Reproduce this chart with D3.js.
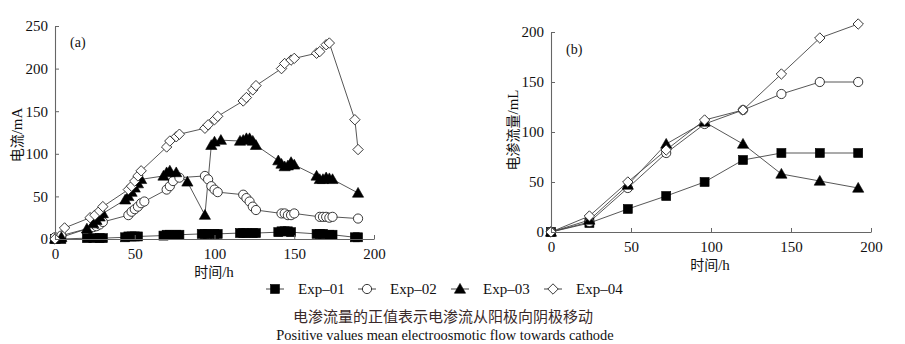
<!DOCTYPE html>
<html>
<head>
<meta charset="utf-8">
<script src="https://cdn.jsdelivr.net/npm/d3@7"></script>
<style>
  html, body { margin: 0; padding: 0; background: #fff; }
  svg { display: block; }
</style>
</head>
<body>
<svg id="fig" width="905" height="344"></svg>
<script>
// ---- Panel (a): electric current over time ----
const seriesNames = ["Exp\u201301", "Exp\u201302", "Exp\u201303", "Exp\u201304"];
const xTicksA = [0, 50, 100, 150, 200];
const yTicksA = [0, 50, 100, 150, 200, 250];

const a01_t = [0, 4, 20, 24, 28, 30, 44, 46, 48, 50, 52, 68, 70, 72, 76, 78, 92, 94, 96, 100, 102, 116, 118, 120, 124, 126, 140, 142, 144, 146, 148, 164, 166, 168, 172, 174, 188, 190];
const a01_v = [0, 0, 1, 1, 1, 1, 2, 3, 3, 3, 3, 4, 5, 5, 5, 5, 6, 6, 6, 6, 6, 7, 7, 7, 7, 7, 8, 9, 9, 9, 8, 6, 6, 6, 5, 5, 2, 2];

const a02_t = [0, 4, 24, 26, 28, 30, 46, 48, 50, 52, 54, 56, 70, 72, 74, 78, 94, 96, 98, 100, 102, 118, 120, 122, 124, 126, 142, 144, 146, 148, 150, 166, 168, 170, 172, 174, 190];
const a02_v = [2, 4, 14, 15, 17, 20, 28, 32, 35, 38, 42, 44, 58, 62, 68, 72, 74, 70, 62, 58, 55, 52, 48, 44, 38, 34, 30, 30, 28, 28, 30, 26, 26, 26, 25, 26, 24];

const a03_t = [0, 4, 20, 24, 26, 28, 30, 44, 46, 48, 50, 52, 54, 68, 70, 72, 76, 83, 94, 98, 100, 104, 116, 118, 120, 122, 124, 126, 140, 142, 144, 146, 148, 150, 164, 166, 168, 170, 172, 174, 190];
const a03_v = [0, 2, 12, 18, 22, 26, 30, 46, 50, 55, 60, 65, 70, 74, 78, 80, 78, 67, 28, 110, 114, 116, 115, 116, 118, 118, 115, 110, 92, 88, 85, 86, 90, 87, 74, 70, 70, 72, 71, 70, 54];

const a04_t = [0, 6, 22, 25, 28, 30, 46, 48, 50, 52, 54, 70, 72, 76, 78, 94, 96, 100, 102, 118, 120, 124, 126, 142, 144, 148, 150, 164, 166, 170, 172, 188, 190];
const a04_v = [0, 13, 25, 28, 33, 38, 58, 62, 68, 74, 80, 108, 115, 120, 123, 130, 134, 140, 144, 162, 166, 175, 180, 200, 206, 210, 212, 218, 220, 228, 230, 140, 105];

// ---- Panel (b): cumulative electroosmotic flow ----
const xTicksB = [0, 50, 100, 150, 200];
const yTicksB = [0, 50, 100, 150, 200];
const b_t = [0, 24, 48, 72, 96, 120, 144, 168, 192];
const b01_v = [0, 9, 23, 36, 50, 72, 79, 79, 79];
const b02_v = [0, 10, 44, 79, 108, 122, 138, 150, 150];
const b03_v = [0, 12, 47, 88, 110, 88, 58, 51, 44];
const b04_v = [0, 16, 50, 82, 112, 122, 158, 194, 208];

const markerKinds = ["square", "circle", "triangle", "diamond"];

const svg = d3.select("#fig");
const numFont = "'Liberation Serif', 'Times New Roman', serif";
const cjkFont = "'Noto Sans CJK SC', sans-serif";

function zip(ts, vs) { return ts.map((t, i) => ({ t, v: vs[i] })); }

function drawMarker(g, kind, cx, cy) {
  if (kind === "square") {
    g.append("rect").attr("x", cx - 4.5).attr("y", cy - 4.5).attr("width", 9).attr("height", 9)
      .attr("fill", "#000").attr("stroke", "#000").attr("stroke-width", 0.6);
  } else if (kind === "circle") {
    g.append("circle").attr("cx", cx).attr("cy", cy).attr("r", 4.6)
      .attr("fill", "#fff").attr("stroke", "#222").attr("stroke-width", 0.9);
  } else if (kind === "triangle") {
    const s = 5.6;
    g.append("path").attr("d", `M${cx},${cy - s}L${cx + s},${cy + s * 0.75}L${cx - s},${cy + s * 0.75}Z`)
      .attr("fill", "#000").attr("stroke", "#000").attr("stroke-width", 0.6);
  } else {
    const s = 5.2;
    g.append("path").attr("d", `M${cx},${cy - s}L${cx + s},${cy}L${cx},${cy + s}L${cx - s},${cy}Z`)
      .attr("fill", "#fff").attr("stroke", "#222").attr("stroke-width", 0.9);
  }
}

function panel(opts) {
  const { x, y, xTicks, yTicks, series, tag, tagPos, yLabel, yLabelPos, xLabelPos } = opts;
  const g = svg.append("g");

  // series lines then markers
  series.forEach((s, i) => {
    const line = d3.line().x(d => x(d.t)).y(d => y(d.v));
    g.append("path").datum(s).attr("d", line)
      .attr("fill", "none").attr("stroke", "#444").attr("stroke-width", 0.9);
  });
  series.forEach((s, i) => {
    const mg = g.append("g");
    s.forEach(d => drawMarker(mg, markerKinds[i], x(d.t), y(d.v)));
  });

  // axes with inward ticks
  const xAxis = d3.axisBottom(x).tickValues(xTicks).tickSizeInner(-4).tickSizeOuter(0).tickPadding(9);
  const yAxis = d3.axisLeft(y).tickValues(yTicks).tickSizeInner(-4).tickSizeOuter(0).tickPadding(7);
  const gx = g.append("g").attr("transform", `translate(0,${y(0)})`).call(xAxis);
  const gy = g.append("g").attr("transform", `translate(${x(0)},0)`).call(yAxis);
  [gx, gy].forEach(ax => {
    ax.select(".domain").attr("stroke", "#666").attr("stroke-width", 1.1);
    ax.selectAll(".tick line").attr("stroke", "#666").attr("stroke-width", 1);
    ax.selectAll(".tick text").attr("fill", "#111").style("font-family", numFont).style("font-size", "15px");
  });

  g.append("text").attr("x", tagPos[0]).attr("y", tagPos[1])
    .style("font-family", numFont).style("font-size", "14px").attr("fill", "#111").text(tag);

  g.append("text").attr("transform", `translate(${yLabelPos[0]},${yLabelPos[1]}) rotate(-90)`)
    .attr("text-anchor", "middle").attr("fill", "#111")
    .style("font-size", "14px").style("font-family", cjkFont)
    .selectAll("tspan").data(yLabel).join("tspan")
    .style("font-family", d => d.latin ? numFont : cjkFont)
    .style("font-size", d => d.latin ? "15px" : "14px")
    .text(d => d.s);

  g.append("text").attr("x", xLabelPos[0]).attr("y", xLabelPos[1]).attr("text-anchor", "middle").attr("fill", "#111")
    .selectAll("tspan").data([{ s: "时间", latin: false }, { s: "/h", latin: true }]).join("tspan")
    .style("font-family", d => d.latin ? numFont : cjkFont)
    .style("font-size", d => d.latin ? "15px" : "14px")
    .text(d => d.s);
}

const xA = d3.scaleLinear().domain([0, 200]).range([55, 374]);
const yA = d3.scaleLinear().domain([0, 250]).range([239, 26]);
panel({
  x: xA, y: yA, xTicks: xTicksA, yTicks: yTicksA,
  series: [zip(a01_t, a01_v), zip(a02_t, a02_v), zip(a03_t, a03_v), zip(a04_t, a04_v)],
  tag: "(a)", tagPos: [70, 47],
  yLabel: [{ s: "电流", latin: false }, { s: "/mA", latin: true }], yLabelPos: [22, 135],
  xLabelPos: [214, 277]
});

const xB = d3.scaleLinear().domain([0, 200]).range([551, 871]);
const yB = d3.scaleLinear().domain([0, 200]).range([232, 32]);
panel({
  x: xB, y: yB, xTicks: xTicksB, yTicks: yTicksB,
  series: [zip(b_t, b01_v), zip(b_t, b02_v), zip(b_t, b03_v), zip(b_t, b04_v)],
  tag: "(b)", tagPos: [566, 54],
  yLabel: [{ s: "电渗流量", latin: false }, { s: "/mL", latin: true }], yLabelPos: [518, 130],
  xLabelPos: [710, 270]
});

// ---- legend ----
const legendX = [275, 367, 460, 553];
const legendY = 289;
const lg = svg.append("g");
seriesNames.forEach((name, i) => {
  const cx = legendX[i];
  lg.append("line").attr("x1", cx - 9).attr("x2", cx + 9).attr("y1", legendY).attr("y2", legendY)
    .attr("stroke", "#444").attr("stroke-width", 1);
  drawMarker(lg, markerKinds[i], cx, legendY);
  lg.append("text").attr("x", cx + 23).attr("y", legendY + 5)
    .style("font-family", numFont).style("font-size", "15px").attr("fill", "#111").text(name);
});

// ---- caption ----
svg.append("text").attr("x", 443).attr("y", 322).attr("text-anchor", "middle")
  .style("font-family", cjkFont).style("font-size", "15px").attr("fill", "#3a2a2a")
  .text("电渗流量的正值表示电渗流从阳极向阴极移动");
svg.append("text").attr("x", 445).attr("y", 340).attr("text-anchor", "middle")
  .style("font-family", numFont).style("font-size", "14.4px").attr("fill", "#111")
  .text("Positive values mean electroosmotic flow towards cathode");
</script>
</body>
</html>
